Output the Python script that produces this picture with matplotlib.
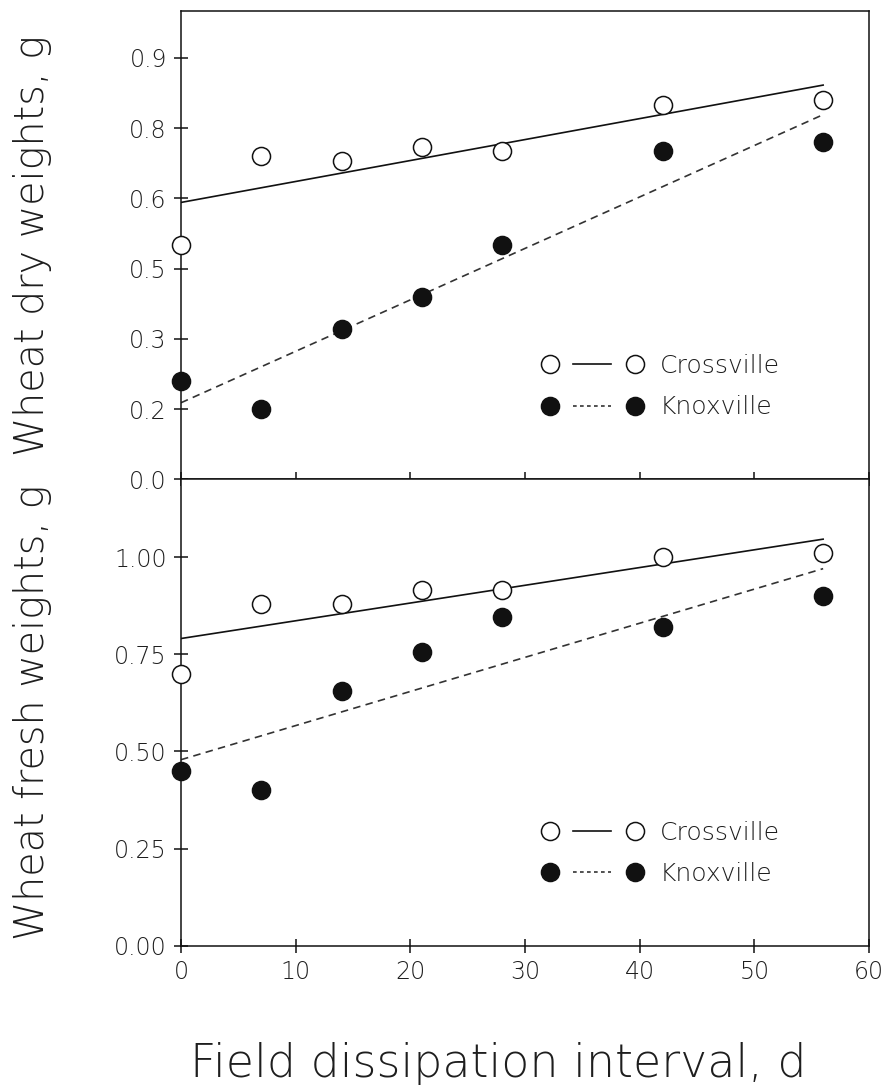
import matplotlib
matplotlib.use("Agg")
import numpy as np
import matplotlib.pyplot as plt
from matplotlib.lines import Line2D
from matplotlib.legend_handler import HandlerBase

# Field dissipation interval (days) and wheat bioassay weights (g)
days = [0, 7, 14, 21, 28, 42, 56]
dry_crossville = [0.50, 0.69, 0.68, 0.71, 0.70, 0.80, 0.81]
dry_knoxville = [0.21, 0.15, 0.32, 0.39, 0.50, 0.70, 0.72]
fresh_crossville = [0.70, 0.88, 0.88, 0.915, 0.915, 1.00, 1.01]
fresh_knoxville = [0.45, 0.40, 0.655, 0.755, 0.845, 0.82, 0.90]

sites = ["Crossville", "Knoxville"]
x_ticks = [0, 10, 20, 30, 40, 50, 60]
dry_ticks = [0.0, 0.15, 0.30, 0.45, 0.60, 0.75, 0.90]
dry_tick_labels = ["0.0", "0.2", "0.3", "0.5", "0.6", "0.8", "0.9"]
fresh_ticks = [0.0, 0.25, 0.50, 0.75, 1.00]
fresh_tick_labels = ["0.00", "0.25", "0.50", "0.75", "1.00"]

TEXT = "#1e1e1e"
INK = "#111111"
DASH = "#333333"
plt.rcParams["font.family"] = ["DejaVu Sans"]
plt.rcParams["font.weight"] = "light"


class PairHandler(HandlerBase):
    """Legend key drawn as: marker, short line, marker."""

    def __init__(self, seg_dashes=None, gap=11.0, **kw):
        super().__init__(**kw)
        self.seg_dashes = seg_dashes
        self.gap = gap

    def create_artists(self, legend, orig_handle, xdescent, ydescent,
                       width, height, fontsize, trans):
        x0 = -xdescent
        x1 = -xdescent + width
        yc = (height - ydescent) / 2.0
        style = dict(marker="o", markersize=orig_handle.get_markersize(),
                     markerfacecolor=orig_handle.get_markerfacecolor(),
                     markeredgecolor=orig_handle.get_markeredgecolor(),
                     markeredgewidth=orig_handle.get_markeredgewidth(),
                     linestyle="none")
        m1 = Line2D([x0], [yc], **style)
        m2 = Line2D([x1], [yc], **style)
        seg = Line2D([x0 + self.gap + 6, x1 - self.gap - 6], [yc, yc],
                     color=orig_handle.get_color(), lw=orig_handle.get_linewidth())
        if self.seg_dashes is not None:
            seg.set_dashes(self.seg_dashes)
        for a in (seg, m1, m2):
            a.set_transform(trans)
        return [seg, m1, m2]


fig = plt.figure(figsize=(8.89, 10.85), dpi=100)
ax_dry = fig.add_axes([0.2036, 0.5582, 0.7739, 0.4317])
ax_fresh = fig.add_axes([0.2036, 0.1284, 0.7739, 0.4298])

panels = [
    (ax_dry, dry_crossville, dry_knoxville, (0, 1.0), dry_ticks, dry_tick_labels),
    (ax_fresh, fresh_crossville, fresh_knoxville, (0, 1.2), fresh_ticks, fresh_tick_labels),
]

x_fit = np.array([days[0], days[-1]])
for ax, cross, knox, ylim, yt, ytl in panels:
    # fitted regression lines
    c_fit = np.polyfit(days, cross, 1)
    k_fit = np.polyfit(days, knox, 1)
    ax.plot(x_fit, np.polyval(c_fit, x_fit), color=INK, lw=1.2, zorder=2)
    ax.plot(x_fit, np.polyval(k_fit, x_fit), color=DASH, lw=1.2,
            dashes=(4.5, 3.2), zorder=2)
    # observations
    ax.plot(days, cross, "o", ms=13, mfc="white", mec=INK, mew=1.1,
            zorder=4, clip_on=False)
    ax.plot(days, knox, "o", ms=13, mfc=INK, mec=INK, mew=1.1,
            zorder=4, clip_on=False)

    ax.set_xlim(0, 60)
    ax.set_ylim(*ylim)
    ax.set_xticks(x_ticks)
    ax.set_yticks(yt)
    ax.set_yticklabels(ytl)
    ax.tick_params(axis="both", direction="inout", length=10.5, width=1.1,
                   color=INK, labelcolor=TEXT, labelsize=17, pad=5)
    ax.tick_params(top=False, right=False)
    for sp in ax.spines.values():
        sp.set_linewidth(1.1)
        sp.set_color(INK)

    h_c = Line2D([], [], color=INK, lw=1.2, marker="o", ms=13,
                 mfc="white", mec=INK, mew=1.1)
    h_k = Line2D([], [], color=DASH, lw=1.2, marker="o", ms=13,
                 mfc=INK, mec=INK, mew=1.1)
    leg = ax.legend([h_c, h_k], sites, loc="center left",
                    bbox_to_anchor=(0.536, 0.198), frameon=False,
                    fontsize=18, handlelength=3.4, handletextpad=1.0,
                    labelspacing=0.7, borderpad=0, borderaxespad=0,
                    handler_map={h_c: PairHandler(),
                                 h_k: PairHandler(seg_dashes=(2.2, 2.0))})
    for t in leg.get_texts():
        t.set_color(TEXT)

ax_dry.tick_params(axis="x", labelbottom=False)

fig.text(0.036, 1 - 245 / 1085, "Wheat dry weights, g", rotation=90,
         ha="center", va="center", fontsize=28.5, color=TEXT)
fig.text(0.036, 1 - 712 / 1085, "Wheat fresh weights, g", rotation=90,
         ha="center", va="center", fontsize=28.5, color=TEXT)
fig.text(0.561, 0.0074, "Field dissipation interval, d", ha="center",
         va="baseline", fontsize=33, color=TEXT)

fig.savefig("out.png", dpi=100, facecolor="white")
